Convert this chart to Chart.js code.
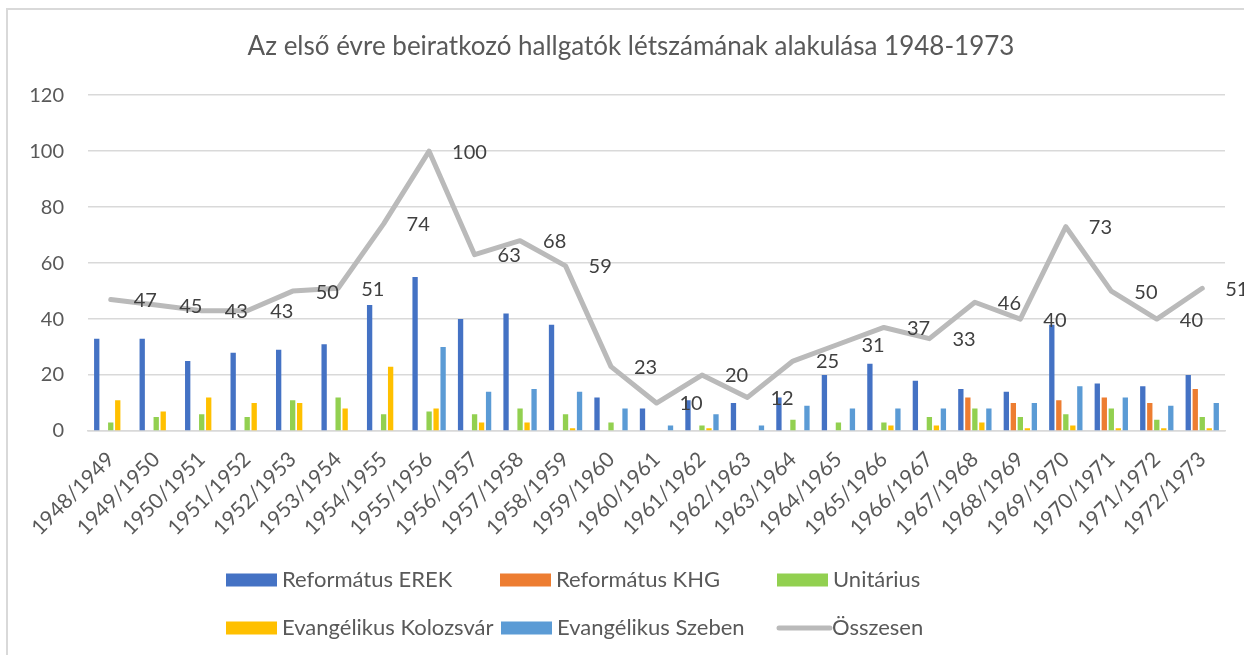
<!DOCTYPE html>
<html>
<head>
<meta charset="utf-8">
<script src="https://cdn.jsdelivr.net/npm/chart.js@4.4.0/dist/chart.umd.min.js"></script>
<style>
  body { margin: 0; background: #fff; }
  #frame { position: absolute; left: 6px; top: 8px; width: 1400px; height: 800px;
           border-left: 2px solid #d9d9d9; border-top: 2px solid #d9d9d9; }
  canvas { position: absolute; left: 0; top: 0; }
</style>
</head>
<body>
<div id="frame"></div>
<canvas id="chart" width="1244" height="655"></canvas>
<script>
var years = ['1948/1949', '1949/1950', '1950/1951', '1951/1952', '1952/1953', '1953/1954',
  '1954/1955', '1955/1956', '1956/1957', '1957/1958', '1958/1959', '1959/1960', '1960/1961',
  '1961/1962', '1962/1963', '1963/1964', '1964/1965', '1965/1966', '1966/1967', '1967/1968',
  '1968/1969', '1969/1970', '1970/1971', '1971/1972', '1972/1973'];
var reformatusEREK = [33, 33, 25, 28, 29, 31, 45, 55, 40, 42, 38, 12, 8, 11, 10, 12, 20, 24, 18, 15, 14, 38, 17, 16, 20];
var reformatusKHG  = [0, 0, 0, 0, 0, 0, 0, 0, 0, 0, 0, 0, 0, 0, 0, 0, 0, 0, 0, 12, 10, 11, 12, 10, 15];
var unitarius      = [3, 5, 6, 5, 11, 12, 6, 7, 6, 8, 6, 3, 0, 2, 0, 4, 3, 3, 5, 8, 5, 6, 8, 4, 5];
var evKolozsvar    = [11, 7, 12, 10, 10, 8, 23, 8, 3, 3, 1, 0, 0, 1, 0, 0, 0, 2, 2, 3, 1, 2, 1, 1, 1];
var evSzeben       = [0, 0, 0, 0, 0, 0, 0, 30, 14, 15, 14, 8, 2, 6, 2, 9, 8, 8, 8, 8, 10, 16, 12, 9, 10];
var osszesen       = [47, 45, 43, 43, 50, 51, 74, 100, 63, 68, 59, 23, 10, 20, 12, 25, 31, 37, 33, 46, 40, 73, 50, 40, 51];
var yTicks = [0, 20, 40, 60, 80, 100, 120];

var textGray = '#595959';
var fontFamily = 'Lato, "Open Sans", sans-serif';

// legend spots, like in the Excel original (two rows of three)
var legendSpots = [[226, 580], [500, 580], [777, 580], [226, 628], [501, 628], [776, 628]];

var pointLabels = {
  id: 'pointLabels',
  afterDatasetsDraw: function(chart) {
    var ctx = chart.ctx;
    var meta = chart.getDatasetMeta(5);
    ctx.save();
    ctx.font = '20px ' + fontFamily;
    ctx.fillStyle = '#404040';
    ctx.textAlign = 'left';
    ctx.textBaseline = 'middle';
    meta.data.forEach(function(pt, i) {
      ctx.fillText(osszesen[i], pt.x + 23, pt.y + 1);
    });
    ctx.restore();
  }
};

var excelLegend = {
  id: 'excelLegend',
  afterDraw: function(chart) {
    var ctx = chart.ctx;
    ctx.save();
    ctx.font = '22px ' + fontFamily;
    ctx.textBaseline = 'middle';
    ctx.textAlign = 'left';
    chart.data.datasets.forEach(function(ds, i) {
      var x = legendSpots[i][0], y = legendSpots[i][1];
      if (ds.type === 'line') {
        ctx.strokeStyle = ds.borderColor;
        ctx.lineWidth = 5;
        ctx.lineCap = 'round';
        ctx.beginPath();
        ctx.moveTo(x + 3, y);
        ctx.lineTo(x + 54, y);
        ctx.stroke();
        ctx.fillStyle = textGray;
        ctx.fillText(ds.label, x + 56, y);
      } else {
        ctx.fillStyle = ds.backgroundColor;
        ctx.fillRect(x, y - 6.5, 51, 13);
        ctx.fillStyle = textGray;
        ctx.fillText(ds.label, x + 56, y);
      }
    });
    ctx.restore();
  }
};

function bar(label, data, color) {
  return {
    type: 'bar', label: label, data: data, backgroundColor: color,
    categoryPercentage: 0.77, barPercentage: 0.76, order: 1
  };
}

var ctx = document.getElementById('chart').getContext('2d');
var myChart = new Chart(ctx, {
  data: {
    labels: years,
    datasets: [
      bar('Református EREK', reformatusEREK, '#4472C4'),
      bar('Református KHG', reformatusKHG, '#ED7D31'),
      bar('Unitárius', unitarius, '#92D050'),
      bar('Evangélikus Kolozsvár', evKolozsvar, '#FFC000'),
      bar('Evangélikus Szeben', evSzeben, '#5B9BD5'),
      {
        type: 'line', label: 'Összesen', data: osszesen,
        borderColor: '#BABABA', borderWidth: 5, pointRadius: 0,
        borderJoinStyle: 'round', borderCapStyle: 'round', tension: 0, order: 0
      }
    ]
  },
  options: {
    responsive: false,
    animation: false,
    layout: { padding: { left: 18, right: 0, top: 0, bottom: 0 } },
    plugins: {
      legend: { display: false },
      tooltip: { enabled: false },
      title: {
        display: true,
        text: 'Az első évre beiratkozó hallgatók létszámának alakulása 1948-1973',
        color: textGray,
        font: { family: fontFamily, size: 26, weight: 'normal' },
        padding: { top: 31, bottom: 33 }
      }
    },
    scales: {
      x: {
        grid: { display: false },
        border: { color: '#d9d9d9', width: 1.5 },
        ticks: {
          color: textGray, font: { family: fontFamily, size: 21 },
          minRotation: 45, maxRotation: 45, autoSkip: false, padding: 8
        },
        afterFit: function(scale) { scale.height = 224; }
      },
      y: {
        min: 0, max: 120,
        afterBuildTicks: function(scale) {
          scale.ticks = yTicks.map(function(v) { return { value: v }; });
        },
        grid: { color: '#d9d9d9', lineWidth: 1.5, drawTicks: false },
        border: { display: false },
        ticks: { color: textGray, font: { family: fontFamily, size: 20 }, padding: 24 },
        afterFit: function(scale) { scale.width = 70; }
      },
      // empty right margin so the title centres like the original
      yRight: {
        position: 'right',
        grid: { display: false },
        border: { display: false },
        ticks: { display: false },
        afterFit: function(scale) { scale.width = 19; }
      }
    }
  },
  plugins: [pointLabels, excelLegend]
});
</script>
</body>
</html>
